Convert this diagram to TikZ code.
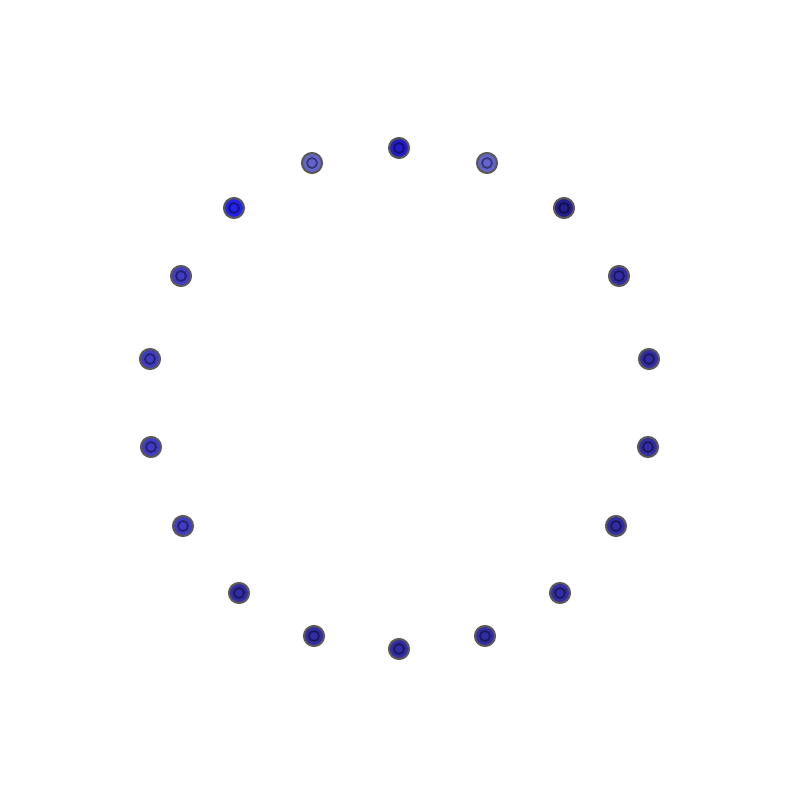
\documentclass[tikz,border=0pt]{standalone}
\begin{document}
\begin{tikzpicture}[x=0.01cm,y=-0.01cm]
\useasboundingbox (0,0) rectangle (800,800);
\definecolor{cA}{RGB}{35,30,200}
\definecolor{cB}{RGB}{100,100,205}
\definecolor{cC}{RGB}{35,30,140}
\definecolor{cD}{RGB}{35,35,235}
\definecolor{cE}{RGB}{65,60,195}
\definecolor{cF}{RGB}{50,45,165}
\tikzset{dot/.style={circle,draw=black!65,line width=0.6pt,minimum size=0.2cm,inner sep=0pt},
 core/.style={circle,line width=0.5pt,minimum size=0.1cm,inner sep=0pt}}
\foreach \i/\px/\py/\col in {0/399/148/cA,1/487/163/cB,2/564/208/cC,3/619/276/cF,4/649/359/cF,5/648/447/cF,6/616/526/cF,7/560/593/cF,8/485/636/cF,9/399/649/cF,10/314/636/cF,11/239/593/cF,12/183/526/cE,13/151/447/cE,14/150/359/cE,15/181/276/cE,16/234/208/cD,17/312/163/cB}{
  \node[dot,fill=\col] (d\i) at (\px,\py) {};
  \node[core,draw=\col!55!black] (k\i) at (d\i) {};
}
\end{tikzpicture}
\end{document}
